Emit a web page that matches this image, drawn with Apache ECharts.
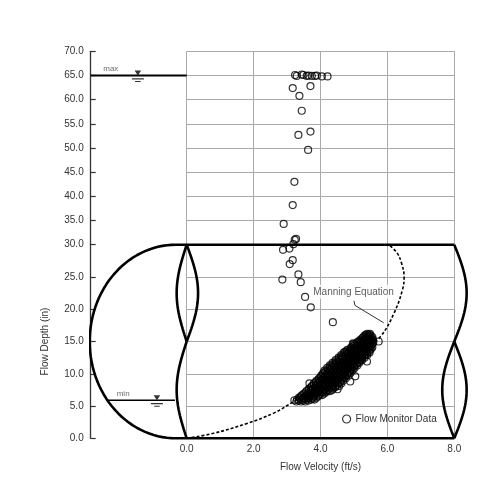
<!DOCTYPE html>
<html><head><meta charset="utf-8">
<script src="https://cdn.jsdelivr.net/npm/echarts@6/dist/echarts.min.js"></script>
<style>html,body{margin:0;padding:0;background:#fff}#c{width:500px;height:500px}</style>
</head><body><div id="c"></div>
<script>
// ---- data ----
const upperPoints = [
  [3.24,65.1],[3.29,64.9],[3.44,65.2],[3.49,65.1],[3.59,64.9],[3.64,65.0],[3.74,64.9],
  [3.84,64.9],[3.89,65.0],[4.04,64.8],[4.21,64.8],[3.17,62.4],[3.70,62.8],[3.37,60.8],
  [3.44,57.7],[3.70,53.4],[3.34,52.7],[3.63,49.6],[3.22,43.0],[3.17,38.2],[2.90,34.3],
  [3.27,31.2],[3.23,31.0],[3.19,30.1]
];
const lowerPoints = [
  [3.07,29.4],[2.88,29.2],[3.17,27.6],[3.08,27.0],[3.34,25.4],[3.41,24.2],[2.86,24.6],
  [3.54,21.9],[3.71,20.3],[4.37,18.0],
  [3.22,5.9],[3.67,8.5],[4.29,10.6],[4.51,7.6],[4.89,8.8],[5.04,9.6],[4.74,13.4],
  [4.97,14.7],[5.39,11.9],[5.74,15.0],[4.99,14.6]
];
const clusterRows = [
  [5.7,[3.28,3.42,3.55]],
  [5.85,[3.35,3.49,3.64]],
  [6.0,[3.30,3.45,3.58,3.72,3.82]],
  [6.15,[3.38,3.52,3.65,3.78]],
  [6.3,[3.36,3.50,3.62,3.75,3.88]],
  [6.5,[3.42,3.56,3.68,3.80,3.93]],
  [6.7,[3.45,3.58,3.70,3.83,3.96,4.05]],
  [6.9,[3.50,3.62,3.75,3.87,4.00,4.10]],
  [7.1,[3.55,3.68,3.80,3.92,4.05,4.15]],
  [7.3,[3.58,3.70,3.82,3.94,4.06,4.18,4.28]],
  [7.5,[3.64,3.76,3.88,4.00,4.12,4.24,4.35]],
  [7.7,[3.66,3.78,3.90,4.02,4.14,4.26,4.38]],
  [7.9,[3.72,3.84,3.96,4.08,4.20,4.32,4.44]],
  [8.1,[3.74,3.86,3.98,4.10,4.22,4.34,4.46,4.56]],
  [8.3,[3.80,3.92,4.04,4.16,4.28,4.40,4.52]],
  [8.5,[3.80,3.92,4.04,4.16,4.28,4.40,4.52,4.62]],
  [8.7,[3.86,3.98,4.10,4.22,4.34,4.46,4.58]],
  [8.9,[3.88,4.00,4.12,4.24,4.36,4.48,4.60,4.68]],
  [9.1,[3.94,4.06,4.18,4.30,4.42,4.54,4.64]],
  [9.3,[3.96,4.08,4.20,4.32,4.44,4.56,4.68,4.76]],
  [9.5,[4.02,4.14,4.26,4.38,4.50,4.62,4.72]],
  [9.7,[4.02,4.14,4.26,4.38,4.50,4.62,4.74,4.84]],
  [9.9,[4.08,4.20,4.32,4.44,4.56,4.68,4.80]],
  [10.1,[4.08,4.20,4.33,4.45,4.57,4.69,4.81,4.90]],
  [10.3,[4.14,4.27,4.39,4.51,4.63,4.75,4.86]],
  [10.5,[4.12,4.26,4.40,4.52,4.64,4.76,4.88,4.96]],
  [10.7,[4.22,4.34,4.46,4.58,4.70,4.82,4.92]],
  [10.9,[4.20,4.33,4.46,4.58,4.70,4.82,4.94,5.02]],
  [11.1,[4.30,4.42,4.54,4.66,4.78,4.90,5.00]],
  [11.3,[4.28,4.41,4.54,4.66,4.78,4.90,5.02,5.10]],
  [11.5,[4.38,4.50,4.62,4.74,4.86,4.98,5.08]],
  [11.7,[4.36,4.49,4.62,4.74,4.86,4.98,5.10,5.16]],
  [11.9,[4.46,4.58,4.70,4.82,4.94,5.05,5.15]],
  [12.1,[4.45,4.58,4.70,4.82,4.94,5.06,5.18,5.24]],
  [12.3,[4.55,4.67,4.79,4.90,5.02,5.13,5.23]],
  [12.5,[4.54,4.66,4.78,4.90,5.02,5.14,5.25,5.32]],
  [12.7,[4.63,4.75,4.87,4.98,5.09,5.20,5.30]],
  [12.9,[4.62,4.75,4.87,4.99,5.11,5.22,5.33,5.40]],
  [13.1,[4.72,4.84,4.95,5.06,5.17,5.28,5.38]],
  [13.3,[4.70,4.83,4.95,5.07,5.18,5.29,5.40,5.47]],
  [13.5,[4.80,4.92,5.03,5.14,5.25,5.35,5.45]],
  [13.7,[4.80,4.92,5.04,5.15,5.26,5.37,5.48]],
  [13.9,[4.90,5.01,5.12,5.22,5.32,5.42,5.52]],
  [14.1,[4.92,5.03,5.14,5.25,5.36,5.46,5.55]],
  [14.3,[5.00,5.10,5.20,5.30,5.40,5.50]],
  [14.5,[5.02,5.12,5.22,5.33,5.43,5.53]],
  [14.7,[5.08,5.18,5.28,5.38,5.48,5.56]],
  [14.9,[5.10,5.20,5.30,5.40,5.50,5.58]],
  [15.1,[5.16,5.26,5.36,5.45,5.55]],
  [15.3,[5.20,5.30,5.39,5.48,5.57]],
  [15.5,[5.25,5.34,5.43,5.52]],
  [15.7,[5.28,5.38,5.47,5.55]],
  [15.9,[5.32,5.42,5.50]],
  [16.05,[5.36,5.45]],
  [16.2,[5.40,5.48]]
];
const manningCurve = [
  [0,0],[0.8,0.77],[1.8,2.3],[2.6,3.9],[3.2,5.7],[3.8,7.6],[4.35,9.7],[4.9,12.0],
  [5.4,14.2],[5.8,15.8],[6.2,19.4],[6.45,23.0],[6.5,25.0],[6.42,27.2],[6.28,28.8],[6.04,30]
];
const manningLeader = [[5.0,21.3],[5.03,20.6],[5.89,17.9]];
const maxLevel = 65;
const minLevel = 5.9;
const pipeTop = 30;
const xTickLabels = ['0.0','2.0','4.0','6.0','8.0'];

const clusterPoints = [];
clusterRows.forEach(r => r[1].forEach(x => clusterPoints.push([x, r[0]])));

// ---- pipe drawing geometry (decoration) ----
function bulge(x0, amp, yA, yB) {
  const pts = [];
  for (let i = 0; i <= 30; i++) { const t = i / 30; pts.push([x0 + amp * Math.sin(Math.PI * t), yA + (yB - yA) * t]); }
  return pts;
}
function halfEllipse(cx, cy, rx, ry) {
  const pts = [];
  for (let i = 0; i <= 60; i++) { const a = Math.PI / 2 + Math.PI * i / 60; pts.push([cx + rx * Math.cos(a), cy + ry * Math.sin(a)]); }
  return pts;
}
const pipeShapes = [
  halfEllipse(-0.32, 15, 2.58, 15),
  [[-0.32, pipeTop], [8, pipeTop]],
  [[-0.32, 0], [8, 0]],
  bulge(0, -0.30, 15, 30), bulge(0, 0.34, 15, 30), bulge(0, -0.30, 0, 15),
  bulge(8, 0.37, 15, 30), bulge(8, -0.36, 0, 15), bulge(8, 0.37, 0, 15)
];

const FONT = 'Liberation Sans, Arial, sans-serif';
const gaugePath = 'path://M2.7,0 L9.3,0 L6,5 Z M0,7.7 L12,7.7 L12,8.9 L0,8.9 Z M3.2,10.4 L8.8,10.4 L8.8,11.6 L3.2,11.6 Z';
const splitStyle = { show: true, lineStyle: { color: '#aaaaaa', width: 1 } };
const ptStyle = { color: 'rgba(0,0,0,0)', borderColor: '#000', borderWidth: 1.2 };

// grid/axis indices: 0 = top gridlines, 1 = bottom gridlines, 2 = top drawing, 3 = bottom drawing
const T = { xAxisIndex: 2, yAxisIndex: 2 };
const B = { xAxisIndex: 3, yAxisIndex: 3 };

const series = [];
pipeShapes.forEach((d, i) => series.push(Object.assign({
  type: 'line', name: 'pipe' + i, data: d, clip: false,
  symbol: 'none', silent: true, lineStyle: { color: '#000', width: 2.6 }, z: 3
}, B)));
series.push(Object.assign({
  type: 'line', name: 'Manning Equation', data: manningCurve, clip: false,
  smooth: 0.4, symbol: 'none', lineStyle: { color: '#000', width: 1.6, type: [3, 2] }, z: 4
}, B));
series.push(Object.assign({
  type: 'line', name: 'leader', data: manningLeader,
  symbol: 'none', lineStyle: { color: '#333', width: 1 }, z: 4
}, B));
series.push(Object.assign({
  type: 'scatter', name: 'mlabel', data: [[4.99, 22.7]], symbolSize: 0, z: 6,
  label: { show: true, position: 'inside', formatter: 'Manning Equation', color: '#333', fontSize: 10,
    fontFamily: FONT, backgroundColor: '#fff', padding: [2, 2] }
}, B));
// water levels
series.push(Object.assign({
  type: 'line', name: 'maxline', data: [[-2.87, maxLevel], [0, maxLevel]],
  symbol: 'none', lineStyle: { color: '#000', width: 2 }
}, T));
series.push(Object.assign({
  type: 'line', name: 'minline', data: [[-2.36, minLevel], [-0.35, minLevel]],
  symbol: 'none', lineStyle: { color: '#000', width: 1.5 }
}, B));
series.push(Object.assign({
  type: 'scatter', name: 'maxsym', data: [[-1.46, maxLevel]],
  symbol: gaugePath, symbolSize: [12, 11.6], symbolOffset: [0, 0.8], itemStyle: { color: '#000' }
}, T));
series.push(Object.assign({
  type: 'scatter', name: 'minsym', data: [[-0.89, minLevel]],
  symbol: gaugePath, symbolSize: [12, 11.6], symbolOffset: [0, 0.8], itemStyle: { color: '#000' }
}, B));
series.push(Object.assign({
  type: 'scatter', name: 'maxlbl', data: [[-2.27, 66.3]], symbolSize: 0,
  label: { show: true, position: 'inside', formatter: 'max', fontSize: 8, color: '#444', fontFamily: FONT }
}, T));
series.push(Object.assign({
  type: 'scatter', name: 'minlbl', data: [[-1.9, 6.9]], symbolSize: 0,
  label: { show: true, position: 'inside', formatter: 'min', fontSize: 8, color: '#444', fontFamily: FONT }
}, B));
// monitor data
series.push(Object.assign({ type: 'scatter', name: 'Flow Monitor Data', data: upperPoints,
  symbol: 'circle', symbolSize: 7, itemStyle: ptStyle, clip: false, z: 5 }, T));
series.push(Object.assign({ type: 'scatter', name: 'Flow Monitor Data', data: clusterPoints,
  symbol: 'circle', symbolSize: 7, itemStyle: ptStyle, clip: false, z: 5 }, B));
series.push(Object.assign({ type: 'scatter', name: 'Flow Monitor Data', data: lowerPoints,
  symbol: 'circle', symbolSize: 7, itemStyle: ptStyle, clip: false, z: 5 }, B));

const labelStyle = { color: '#333', fontSize: 10, fontFamily: FONT };
const hiddenAxis = { axisLine: { show: false }, axisTick: { show: false }, axisLabel: { show: false }, splitLine: { show: false } };
const gridLinesY = { type: 'value', interval: 5, axisLine: { show: false }, axisTick: { show: false },
  axisLabel: { show: false }, splitLine: splitStyle };
const gridLinesX = { type: 'value', min: 0, max: 8, interval: 2, axisLine: { show: false },
  axisTick: { show: false }, splitLine: splitStyle };
const drawY = {
  type: 'value', interval: 5,
  axisLine: { show: true, onZero: false, lineStyle: { color: '#333', width: 1.3 } },
  axisTick: { show: true, inside: true, length: 5, lineStyle: { color: '#333', width: 1.2 } },
  axisLabel: Object.assign({ margin: 7, formatter: v => v.toFixed(1) }, labelStyle),
  splitLine: { show: false }
};
const drawX = Object.assign({ type: 'value', min: -2.87, max: 8.5 }, hiddenAxis);

const chart = echarts.init(document.getElementById('c'), null, { renderer: 'canvas' });
chart.setOption({
  animation: false,
  backgroundColor: '#fff',
  grid: [
    { left: 186.7, right: 45.7, top: 51.3, height: 193.4 },
    { left: 186.7, right: 45.7, top: 244.7, height: 193.6 },
    { left: 90.7, right: 29.0, top: 51.3, height: 193.4 },
    { left: 90.7, right: 29.0, top: 244.7, height: 193.6 }
  ],
  xAxis: [
    Object.assign({}, gridLinesX, { gridIndex: 0, axisLabel: { show: false } }),
    Object.assign({}, gridLinesX, { gridIndex: 1,
      axisLabel: Object.assign({ margin: 6, formatter: v => xTickLabels[Math.round(v / 2)] }, labelStyle),
      name: 'Flow Velocity (ft/s)', nameLocation: 'middle', nameGap: 24,
      nameTextStyle: { color: '#333', fontSize: 10, fontFamily: FONT } }),
    Object.assign({}, drawX, { gridIndex: 2 }),
    Object.assign({}, drawX, { gridIndex: 3 })
  ],
  yAxis: [
    Object.assign({}, gridLinesY, { gridIndex: 0, min: 30, max: 70 }),
    Object.assign({}, gridLinesY, { gridIndex: 1, min: 0, max: 30 }),
    Object.assign({}, drawY, { gridIndex: 2, min: 30, max: 70,
      axisLabel: Object.assign({}, drawY.axisLabel, { showMinLabel: false }) }),
    Object.assign({}, drawY, { gridIndex: 3, min: 0, max: 30,
      name: 'Flow Depth (in)', nameLocation: 'middle', nameGap: 40, nameRotate: 90,
      nameTextStyle: { color: '#333', fontSize: 10, fontFamily: FONT } })
  ],
  legend: {
    data: [{ name: 'Flow Monitor Data', icon: 'circle' }],
    left: 342, top: 414, padding: 0, itemWidth: 8, itemHeight: 8,
    itemStyle: { color: 'rgba(0,0,0,0)', borderColor: '#000', borderWidth: 1.2 },
    textStyle: { color: '#333', fontSize: 10, fontFamily: FONT }
  },
  series: series
});
</script></body></html>
